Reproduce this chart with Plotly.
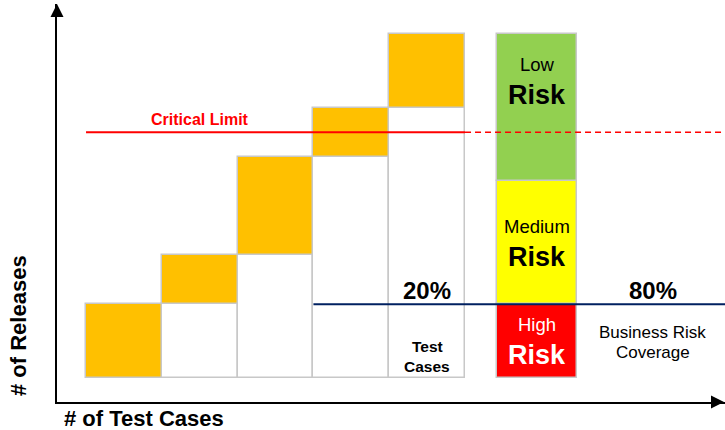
import plotly.graph_objects as go

# ---------------- data ----------------
test_case_groups = [1, 2, 3, 4, 5]
covered_releases = [0, 3, 5, 9, 11]      # white (already covered) part of each column
new_releases = [3, 2, 4, 2, 3]           # orange part on top
critical_limit = 10
pareto_level = 3
pareto_start_group = 3                   # blue line starts after this many groups

risk_labels_small = ["High", "Medium", "Low"]
risk_sizes = [3, 5, 6]
risk_colors = ["#FF0000", "#FFFF00", "#92D050"]

pct_test_cases = "20%"
pct_business = "80%"

# ---------------- layout constants ----------------
FONT = "Liberation Sans"
X0, X1 = -0.383, 8.43
Y0, Y1 = -0.977, 15.22
RISK_X, RISK_W = 5.95, 1.05
BIZ_X = 7.48
OUTLINE = "#C8C8C8"

x_centers = [g - 0.5 for g in test_case_groups]

fig = go.Figure()

# white base cells
fig.add_trace(go.Bar(
    x=x_centers, y=covered_releases, base=[0] * len(covered_releases), width=1,
    marker=dict(color="white", line=dict(color=OUTLINE, width=1.5)),
    showlegend=False, hoverinfo="skip"))
# orange cells
fig.add_trace(go.Bar(
    x=x_centers, y=new_releases, base=covered_releases, width=1,
    marker=dict(color="#FFC000", line=dict(color=OUTLINE, width=1.5)),
    showlegend=False, hoverinfo="skip"))

# risk stacked bar
base = 0
for lab, size, col in zip(risk_labels_small, risk_sizes, risk_colors):
    fig.add_trace(go.Bar(
        x=[RISK_X], y=[size], base=[base], width=RISK_W,
        marker=dict(color=col, line=dict(color=OUTLINE, width=1.5)),
        showlegend=False, hoverinfo="skip", name=lab))
    base += size

# critical limit: solid over the columns, dashed beyond
n = len(test_case_groups)
fig.add_trace(go.Scatter(x=[0, n], y=[critical_limit] * 2, mode="lines",
                         line=dict(color="#FF0000", width=2), showlegend=False, hoverinfo="skip"))
fig.add_trace(go.Scatter(x=[n, X1], y=[critical_limit] * 2, mode="lines",
                         line=dict(color="#FF0000", width=1.5, dash="6px,4px"),
                         showlegend=False, hoverinfo="skip"))
# pareto line
fig.add_trace(go.Scatter(x=[pareto_start_group, X1], y=[pareto_level] * 2, mode="lines",
                         line=dict(color="#002060", width=2), showlegend=False, hoverinfo="skip"))

ann = []
def txt(x, y, s, size, color="black", bold=False, **kw):
    ann.append(dict(x=x, y=y, xref="x", yref="y", text=f"<b>{s}</b>" if bold else s,
                    xanchor="center", yanchor="middle",
                    showarrow=False, font=dict(family=FONT, size=size, color=color), **kw))

txt(1.5, 10.54, "Critical Limit", 16, "#FF0000", True)
txt(4.5, 3.58, pct_test_cases, 24, bold=True)
txt(4.5, 1.30, "Test", 15.5, bold=True)
txt(4.5, 0.45, "Cases", 15.5, bold=True)

txt(RISK_X, 12.74, "Low", 18.5)
txt(RISK_X, 11.52, "Risk", 27, bold=True)
txt(RISK_X, 6.15, "Medium", 18.5)
txt(RISK_X, 4.92, "Risk", 27, bold=True)
txt(RISK_X, 2.16, "High", 18.5, "white")
txt(RISK_X, 0.94, "Risk", 27, "white", True)

txt(BIZ_X, 3.58, pct_business, 24, bold=True)
txt(BIZ_X, 1.87, "Business Risk", 17)
txt(BIZ_X, 1.02, "Coverage", 17)

# axis titles
ann.append(dict(x=(62 - 57) / 668, y=(402 - 418) / 398, xref="paper", yref="paper",
                xanchor="left", yanchor="middle",
                text="<b># of Test Cases</b>", showarrow=False,
                font=dict(family=FONT, size=22, color="black")))
ann.append(dict(x=(18 - 57) / 668, y=(402 - 326) / 398, xref="paper", yref="paper",
                xanchor="center", yanchor="middle", textangle=-90,
                text="<b># of Releases</b>", showarrow=False,
                font=dict(family=FONT, size=22, color="black")))

# arrow heads
ann.append(dict(x=0, y=1, xref="paper", yref="paper", ax=0, ay=14, text="",
                showarrow=True, arrowhead=2, arrowsize=1.3, arrowwidth=2, arrowcolor="black"))
ann.append(dict(x=1, y=0, xref="paper", yref="paper", ax=-14, ay=0, text="",
                showarrow=True, arrowhead=2, arrowsize=1.3, arrowwidth=2, arrowcolor="black"))

fig.update_layout(
    width=725, height=430,
    margin=dict(l=57, r=0, t=4, b=28),
    plot_bgcolor="white", paper_bgcolor="white",
    barmode="overlay", bargap=0,
    annotations=ann,
    xaxis=dict(range=[X0, X1], showgrid=False, zeroline=False, showticklabels=False,
               ticks="", showline=True, linecolor="black", linewidth=2),
    yaxis=dict(range=[Y0, Y1], showgrid=False, zeroline=False, showticklabels=False,
               ticks="", showline=True, linecolor="black", linewidth=2),
)

fig.write_html("out.html")
